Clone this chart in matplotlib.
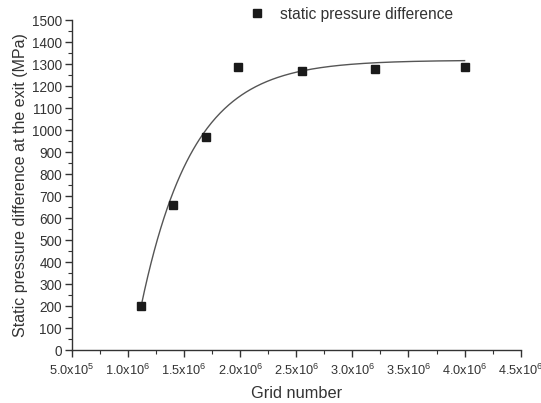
import numpy as np
import matplotlib.pyplot as plt
from matplotlib.ticker import MultipleLocator, FuncFormatter

plt.rcParams['font.family'] = ['Liberation Sans', 'DejaVu Sans']
plt.rcParams['mathtext.fontset'] = 'custom'
plt.rcParams['mathtext.rm'] = 'Liberation Sans'
plt.rcParams['mathtext.it'] = 'Liberation Sans'

# 격자 수 vs 정압차 데이터
grid_number = [1.115e6, 1.40e6, 1.70e6, 1.985e6, 2.555e6, 3.20e6, 4.00e6]
pressure_diff = [200, 660, 968, 1288, 1270, 1280, 1285]

# 지수 곡선 피팅 파라미터 (y = y0 - A*exp(-(x-x0)/t))
fit_y0 = 1318
fit_A = 1140
fit_x0 = 1.11e6
fit_t = 0.458e6
fit_start, fit_end = 1.12e6, 4.0e6

text_color = '#333333'

fig = plt.figure(figsize=(5.41, 4.03), dpi=100)
ax = fig.add_axes([0.1325, 0.1315, 0.83, 0.8185])

xs = np.linspace(fit_start, fit_end, 300)
ys = fit_y0 - fit_A * np.exp(-(xs - fit_x0) / fit_t)
ax.plot(xs, ys, color='#555555', lw=1.0, zorder=2)
ax.plot(grid_number, pressure_diff, 's', color='#1a1a1a', markersize=6,
        label='static pressure difference', zorder=3)

ax.set_xlim(5e5, 4.5e6)
ax.set_ylim(0, 1500)
ax.xaxis.set_major_locator(MultipleLocator(5e5))
ax.xaxis.set_minor_locator(MultipleLocator(2.5e5))
ax.yaxis.set_major_locator(MultipleLocator(100))
ax.yaxis.set_minor_locator(MultipleLocator(50))


def sci_fmt(v, pos):
    if v <= 0:
        return ''
    exp = int(np.floor(np.log10(v) + 1e-9))
    mant = v / 10 ** exp
    return r'%.1fx10$^{%d}$' % (mant, exp)


ax.xaxis.set_major_formatter(FuncFormatter(sci_fmt))

for s in ['top', 'right']:
    ax.spines[s].set_visible(False)
for s in ['left', 'bottom']:
    ax.spines[s].set_color('#333333')
    ax.spines[s].set_linewidth(1.0)

ax.tick_params(which='major', direction='out', length=5, width=1.0,
               colors='#333333', labelcolor=text_color)
ax.tick_params(axis='y', which='major', labelsize=9.8, pad=2)
ax.tick_params(axis='x', which='major', labelsize=9.2, pad=4)
ax.tick_params(which='minor', direction='out', length=3, width=0.8,
               colors='#333333')

ax.set_xlabel('Grid number', fontsize=11.8, color=text_color, labelpad=6)
ax.set_ylabel('Static pressure difference at the exit (MPa)', fontsize=11.5,
              color=text_color, labelpad=3)

fig.legend(loc='center left', bbox_to_anchor=(0.42, 0.965), frameon=False,
           fontsize=11.2, handletextpad=0.5, labelcolor=text_color)

plt.savefig('out.png', dpi=100)
